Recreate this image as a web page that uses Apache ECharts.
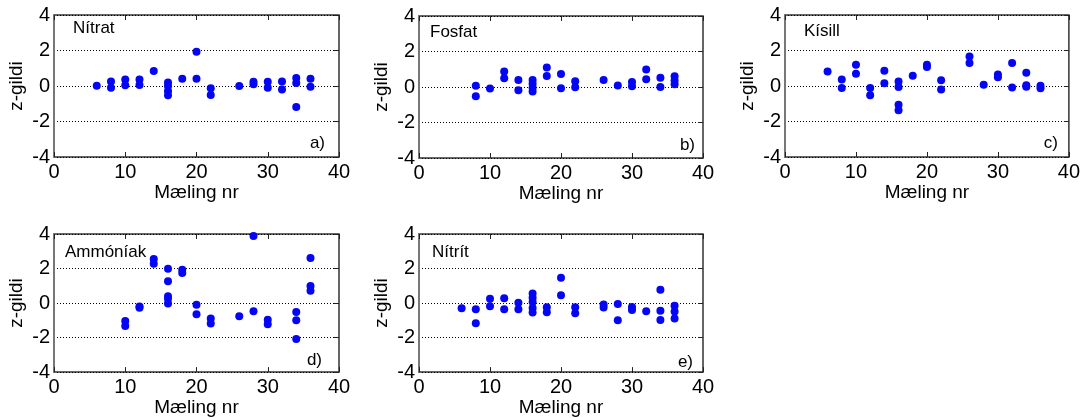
<!DOCTYPE html>
<html>
<head>
<meta charset="utf-8">
<script src="https://cdn.jsdelivr.net/npm/echarts@6/dist/echarts.min.js"></script>
<style>
  html, body { margin: 0; padding: 0; background: #fff; }
  #chart { width: 1083px; height: 418px; }
</style>
</head>
<body>
<div id="chart"></div>
<script>
// z-values per measurement number [mæling nr, z-gildi]
const nitrat = [
  [6, 0.02], [8, 0.26], [8, -0.1], [10, 0.37], [10, 0.04], [12, 0.37], [12, 0.05],
  [14, 0.84], [16, 0.2], [16, 0.0], [16, -0.28], [16, -0.52], [18, 0.41],
  [20, 1.93], [20, 0.41], [22, -0.12], [22, -0.5], [26, 0.0], [28, 0.24], [28, 0.1],
  [30, 0.24], [30, -0.1], [32, 0.26], [32, -0.2], [34, 0.45], [34, 0.17], [34, -1.18],
  [36, 0.41], [36, -0.04]
];
const fosfat = [
  [8, 0.07], [8, -0.52], [10, -0.09], [12, 0.88], [12, 0.5], [14, 0.39], [14, -0.19],
  [16, 0.39], [16, 0.19], [16, -0.04], [16, -0.26], [18, 1.1], [18, 0.62],
  [20, 0.73], [20, -0.07], [22, 0.32], [22, -0.02], [26, 0.39], [28, 0.09],
  [30, 0.28], [30, 0.04], [32, 0.99], [32, 0.43], [34, 0.52], [34, 0.0],
  [36, 0.6], [36, 0.37], [36, 0.15]
];
const kisill = [
  [6, 0.82], [8, 0.36], [8, -0.11], [10, 1.2], [10, 0.69], [12, -0.11], [12, -0.52],
  [14, 0.86], [14, 0.15], [16, 0.26], [16, -0.06], [16, -1.05], [16, -1.36],
  [18, 0.58], [20, 1.2], [20, 1.07], [22, 0.32], [22, -0.2], [26, 1.66], [26, 1.29],
  [28, 0.07], [30, 0.65], [30, 0.5], [32, 1.29], [32, -0.09], [34, 0.75], [34, 0.04],
  [34, -0.04], [36, 0.02], [36, -0.13]
];
const ammoniak = [
  [10, -1.04], [10, -1.33], [12, -0.2], [12, -0.27], [14, 2.55], [14, 2.27],
  [16, 1.99], [16, 1.27], [16, 0.4], [16, 0.25], [16, -0.03], [18, 1.93], [18, 1.74],
  [20, -0.1], [20, -0.65], [22, -0.9], [22, -1.18], [26, -0.76], [28, 3.89], [28, -0.48],
  [30, -0.97], [30, -1.23], [34, -0.52], [34, -0.99], [34, -2.08],
  [36, 2.61], [36, 0.99], [36, 0.71]
];
const nitrit = [
  [6, -0.3], [8, -0.36], [8, -1.17], [10, 0.25], [10, -0.19], [12, 0.28], [12, -0.36],
  [14, 0.02], [14, -0.36], [16, 0.55], [16, 0.3], [16, 0.06], [16, -0.28], [16, -0.55],
  [18, -0.25], [18, -0.53], [20, 1.46], [20, 0.45], [22, -0.25], [22, -0.59],
  [26, -0.08], [26, -0.26], [28, -0.06], [28, -1.0], [30, -0.23], [30, -0.4],
  [32, -0.47], [34, 0.77], [34, -0.45], [34, -0.98], [36, -0.15], [36, -0.49], [36, -0.89]
];

const names = ['Nítrat', 'Fosfat', 'Kísill', 'Ammóníak', 'Nítrít'];
const tags = ['a)', 'b)', 'c)', 'd)', 'e)'];
const datasets = [nitrat, fosfat, kisill, ammoniak, nitrit];
const xTitle = 'Mæling nr';
const yTitle = 'z-gildi';

// panel boxes in pixels
const boxes = [
  { left: 54, top: 15, width: 285, height: 142 },
  { left: 419, top: 16, width: 284, height: 142 },
  { left: 785, top: 15, width: 284, height: 142 },
  { left: 54, top: 234, width: 285, height: 142 },
  { left: 419, top: 234, width: 284, height: 142 }
];
const nameOffset = [[19, 14], [11, 17], [19, 17], [11, 19], [13, 19]];
const tagOffset = [[14, 12], [8, 11], [11, 12], [17, 14], [10, 12]];

const FONT = 'Liberation Sans, Arial, sans-serif';
const grid = [], xAxis = [], yAxis = [], series = [], graphic = [];

const tickStyle = { show: true, inside: true, length: 5, lineStyle: { color: '#222' } };

boxes.forEach((b, i) => {
  grid.push({
    left: b.left, top: b.top, width: b.width, height: b.height,
    show: true, borderColor: '#333', borderWidth: 1.5, backgroundColor: '#fff'
  });
  // bottom axis with labels and title
  xAxis.push({
    gridIndex: i, type: 'value', min: 0, max: 40, interval: 10, position: 'bottom',
    name: xTitle, nameLocation: 'middle', nameGap: 19,
    nameTextStyle: { fontFamily: FONT, fontSize: 19, color: '#000', verticalAlign: 'top' },
    axisLine: { show: false, onZero: false },
    axisTick: tickStyle,
    axisLabel: { fontFamily: FONT, fontSize: 20, color: '#000', margin: 5 },
    splitLine: { show: false }
  });
  // top axis: ticks only
  xAxis.push({
    gridIndex: i, type: 'value', min: 0, max: 40, interval: 10, position: 'top',
    axisLine: { show: false, onZero: false },
    axisTick: tickStyle,
    axisLabel: { show: false }, splitLine: { show: false }
  });
  yAxis.push({
    gridIndex: i, type: 'value', min: -4, max: 4, interval: 2, position: 'left',
    name: yTitle, nameLocation: 'middle', nameGap: 28, nameRotate: 90,
    nameTextStyle: { fontFamily: FONT, fontSize: 19, color: '#000' },
    axisLine: { show: true, onZero: false, lineStyle: { color: '#777', width: 2 } },
    axisTick: { show: false },
    axisLabel: { fontFamily: FONT, fontSize: 20, color: '#000', margin: 4 },
    splitLine: {
      show: true,
      lineStyle: { color: '#000', type: [1, 2], width: 1 }
    }
  });
  // right axis: ticks only
  yAxis.push({
    gridIndex: i, type: 'value', min: -4, max: 4, interval: 2, position: 'right',
    axisLine: { show: false, onZero: false },
    axisTick: tickStyle,
    axisLabel: { show: false }, splitLine: { show: false }
  });
  series.push({
    type: 'scatter', xAxisIndex: 2 * i, yAxisIndex: 2 * i,
    data: datasets[i], symbol: 'circle', symbolSize: 8,
    itemStyle: { color: '#0505f5', opacity: 1 },
    z: 5
  });
  graphic.push({
    type: 'text', left: b.left + nameOffset[i][0], top: b.top + nameOffset[i][1] - 9,
    style: { text: names[i], fontFamily: FONT, fontSize: 17, fill: '#000' }, z: 10
  });
  graphic.push({
    type: 'text', right: 1083 - (b.left + b.width) + tagOffset[i][0],
    top: b.top + b.height - tagOffset[i][1] - 10,
    style: { text: tags[i], fontFamily: FONT, fontSize: 17, fill: '#000' }, z: 10
  });
});

const chart = echarts.init(document.getElementById('chart'), null, { renderer: 'canvas' });
chart.setOption({
  animation: false,
  backgroundColor: '#fff',
  grid, xAxis, yAxis, series, graphic
});
</script>
</body>
</html>
